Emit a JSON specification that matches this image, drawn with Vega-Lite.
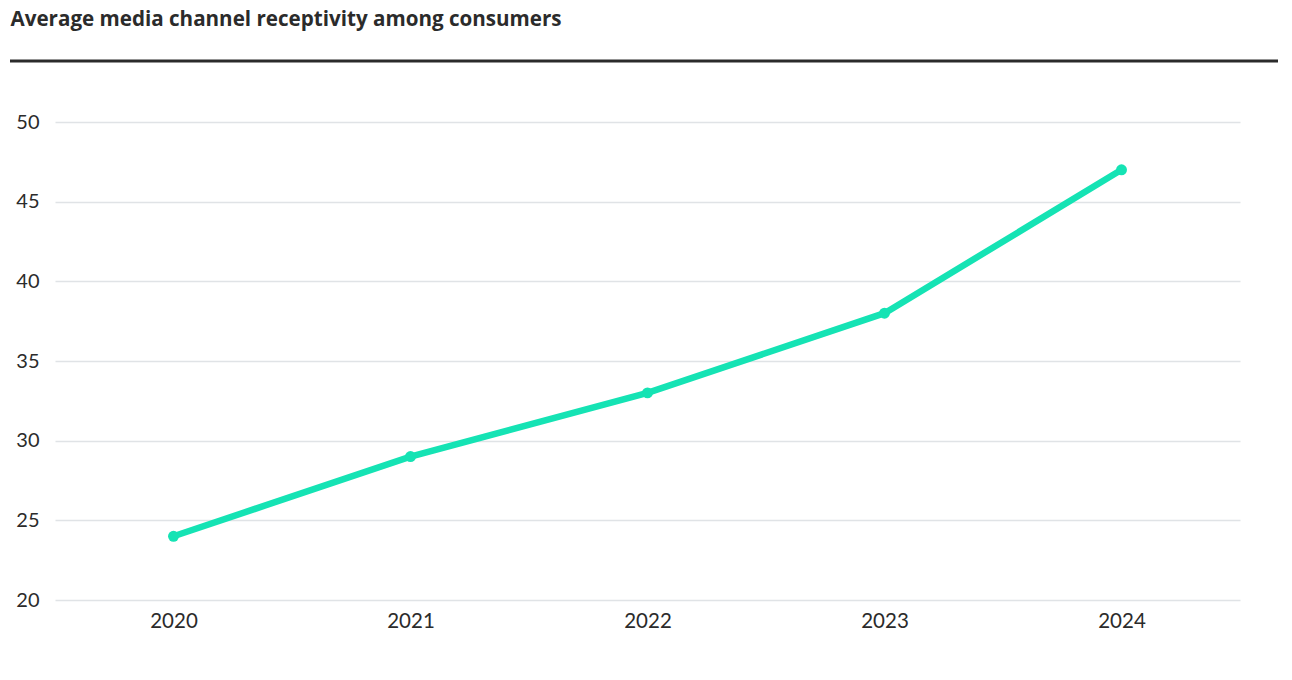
{
  "$schema": "https://vega.github.io/schema/vega-lite/v6.json",
  "background": "white",
  "padding": {"left": 8, "top": 9, "right": 12, "bottom": 10},
  "title": {
    "text": "Average media channel receptivity among consumers",
    "anchor": "start",
    "dx": 2,
    "fontSize": 20.6,
    "font": "Open Sans",
    "fontWeight": "bold",
    "color": "#2b2b2b",
    "offset": 29
  },
  "config": {"view": {"stroke": null}, "font": "Lato"},
  "spacing": 49,
  "vconcat": [
    {
      "width": 1185,
      "height": 1,
      "data": {"values": [{"edge": 0}, {"edge": 1}]},
      "mark": {"type": "rule", "color": "#2b2b2b", "strokeWidth": 3},
      "encoding": {
        "x": {"aggregate": "min", "field": "edge", "type": "quantitative", "axis": null, "scale": {"domain": [0, 1], "range": [-45, 1223]}},
        "x2": {"aggregate": "max", "field": "edge"},
        "y": {"datum": 0, "type": "quantitative", "axis": null, "scale": {"domain": [0, 1]}}
      }
    },
    {
      "width": 1185,
      "height": 478,
      "data": {
        "values": [
          {"year": "2020", "value": 24},
          {"year": "2021", "value": 29},
          {"year": "2022", "value": 33},
          {"year": "2023", "value": 38},
          {"year": "2024", "value": 47}
        ]
      },
      "mark": {
        "type": "line",
        "color": "#15e3b4",
        "strokeWidth": 6.5,
        "point": {"filled": true, "size": 120, "color": "#15e3b4", "opacity": 1}
      },
      "encoding": {
        "x": {
          "field": "year",
          "type": "ordinal",
          "scale": {"type": "point", "padding": 0.5},
          "axis": {
            "title": null,
            "labelAngle": 0,
            "ticks": false,
            "domain": false,
            "labelPadding": 11,
            "labelFontSize": 20.5,
            "labelColor": "#2b2b2b",
            "labelFont": "Lato"
          }
        },
        "y": {
          "field": "value",
          "type": "quantitative",
          "scale": {"domain": [20, 50]},
          "axis": {
            "title": null,
            "values": [20, 25, 30, 35, 40, 45, 50],
            "ticks": false,
            "domain": false,
            "grid": true,
            "gridColor": "#e0e3e6",
            "gridWidth": 1.5,
            "labelPadding": 16,
            "minExtent": 45,
            "labelFontSize": 20,
            "labelColor": "#2b2b2b",
            "labelFont": "Lato"
          }
        }
      }
    }
  ]
}
